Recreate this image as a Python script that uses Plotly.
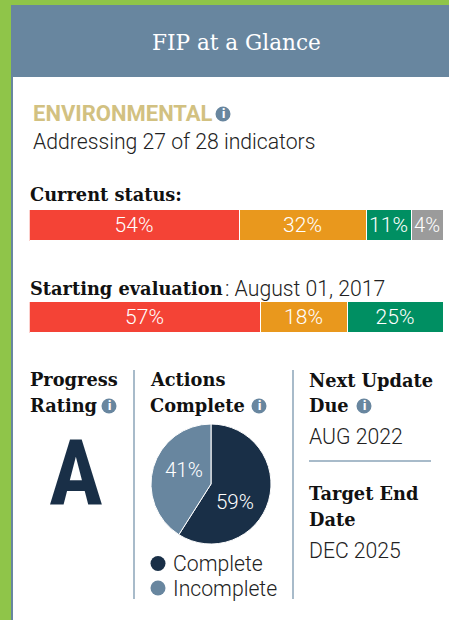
import plotly.graph_objects as go

W, H = 449, 620

# --- data ---
rows = [0, 1]
status_names = ["Red", "Orange", "Green", "Grey"]
red_len = [50.7, 55.8]
orange_len = [30.6, 20.9]
green_len = [11.0, 23.4]
grey_len = [7.6, 0]
red_lbl = ["54%", "57%"]
orange_lbl = ["32%", "18%"]
green_lbl = ["11%", "25%"]
grey_lbl = ["4%", ""]
pie_labels = ["Complete", "Incomplete"]
pie_values = [59, 41]

NAVY = "#192f47"
BLUE = "#68869f"
LINE = "#8ba5b9"
SLAB = "DejaVu Serif"
ROB = "Roboto"
BLACK = "#111111"
colors = ["#f44336", "#e9981d", "#008f62", "#9b9b9b"]
HEAD = 17.8
BODY = 21.2


def px(x):
    return x / W


def py(y):
    return 1 - y / H


fig = go.Figure()
for name, vals, lbl, c in zip(status_names,
                              [red_len, orange_len, green_len, grey_len],
                              [red_lbl, orange_lbl, green_lbl, grey_lbl], colors):
    fig.add_bar(y=rows, x=vals, orientation="h", name=name, text=lbl, width=0.337,
                marker=dict(color=c, line=dict(color="white", width=1)),
                textposition="inside", insidetextanchor="middle", textangle=0,
                insidetextfont=dict(family=ROB, size=21, color="white", weight=300),
                hoverinfo="skip", showlegend=False)

fig.add_pie(labels=pie_labels, values=pie_values, sort=False, direction="clockwise", rotation=0,
            marker=dict(colors=[NAVY, BLUE], line=dict(color="white", width=1)),
            textinfo="none",
            domain=dict(x=[px(151), px(271)], y=[py(544), py(424)]),
            showlegend=False, hoverinfo="skip")

shapes = []


def rect(x0, y0, x1, y1, color):
    shapes.append(dict(type="rect", xref="paper", yref="paper", x0=px(x0), x1=px(x1), y0=py(y0), y1=py(y1),
                       fillcolor=color, line=dict(width=0), layer="below"))


def circle(cx, cy, r, color):
    shapes.append(dict(type="circle", xref="paper", yref="paper", x0=px(cx - r), x1=px(cx + r),
                       y0=py(cy + r), y1=py(cy - r), fillcolor=color, line=dict(width=0)))


def vline(x0, y0, x1, y1):
    shapes.append(dict(type="line", xref="paper", yref="paper", x0=px(x0), x1=px(x1), y0=py(y0), y1=py(y1),
                       line=dict(color=LINE, width=1.5)))


rect(0, 0, 449, 5, "#8fc549")
rect(0, 0, 11, 620, "#8fc549")
rect(11, 5, 13, 620, BLUE)
rect(11, 5, 449, 77, BLUE)
vline(134, 370, 134, 599)
vline(293, 370, 293, 599)
vline(309, 461, 431, 461)
circle(158, 563.5, 7.5, NAVY)
circle(158, 588, 7.5, BLUE)

ann = []


def text(x, y, s, size, family=ROB, color="#222222", weight=300, anchor="left"):
    ann.append(dict(x=px(x), y=py(y), xref="paper", yref="paper", text=s, showarrow=False,
                    xanchor=anchor, yanchor="middle", align=anchor,
                    font=dict(family=family, size=size, color=color, weight=weight),
                    borderpad=0, borderwidth=0))


def info(cx, cy):
    circle(cx, cy, 7.5, BLUE)
    text(cx, cy, "i", 12, family=ROB, color="white", weight=900, anchor="center")


text(236, 42, "FIP at a Glance", 21.6, family=SLAB, color="white", weight=400, anchor="center")
text(33, 114, "ENVIRONMENTAL", 22, color="#d2c181", weight=700)
info(223, 114)
text(33, 142, "Addressing 27 of 28 indicators", BODY)
text(30, 195, "Current status:", HEAD, family=SLAB, color=BLACK, weight=700)
text(30, 288, "Starting evaluation", HEAD, family=SLAB, color=BLACK, weight=700)
text(225, 288, ": August 01, 2017", BODY)
text(30, 379, "Progress", HEAD, family=SLAB, color=BLACK, weight=700)
text(30, 405, "Rating", HEAD, family=SLAB, color=BLACK, weight=700)
info(109, 406)
text(150, 379, "Actions", HEAD, family=SLAB, color=BLACK, weight=700)
text(150, 405, "Complete", HEAD, family=SLAB, color=BLACK, weight=700)
info(259, 406)
text(309, 380, "Next Update", HEAD, family=SLAB, color=BLACK, weight=700)
text(309, 406, "Due", HEAD, family=SLAB, color=BLACK, weight=700)
info(364, 406)
text(309, 436, "AUG 2022", BODY)
text(309, 493, "Target End", HEAD, family=SLAB, color=BLACK, weight=700)
text(309, 519, "Date", HEAD, family=SLAB, color=BLACK, weight=700)
text(309, 550, "DEC 2025", BODY)
text(76, 473, '<span style="font-stretch:condensed">A</span>', 90, family=ROB, color=NAVY, weight=700, anchor="center")
text(173, 563, pie_labels[0], BODY)
text(173, 588, pie_labels[1], BODY)
text(235, 502, f"{pie_values[0]}%", 20.5, color="white", anchor="center")
text(184, 470, f"{pie_values[1]}%", 20.5, color="white", anchor="center")

fig.update_layout(
    width=W, height=H, margin=dict(l=0, r=0, t=0, b=0), barmode="stack", bargap=0,
    paper_bgcolor="white", plot_bgcolor="rgba(0,0,0,0)", shapes=shapes, annotations=ann,
    xaxis=dict(domain=[px(29.5), px(443.5)], range=[0, 100], visible=False, fixedrange=True),
    yaxis=dict(domain=[py(333), py(210)], range=[1.168, -0.168], visible=False, fixedrange=True),
)
fig.write_html("out.html", config=dict(displayModeBar=False),
               post_script="document.body.style.margin='0';document.body.style.overflow='hidden';")
